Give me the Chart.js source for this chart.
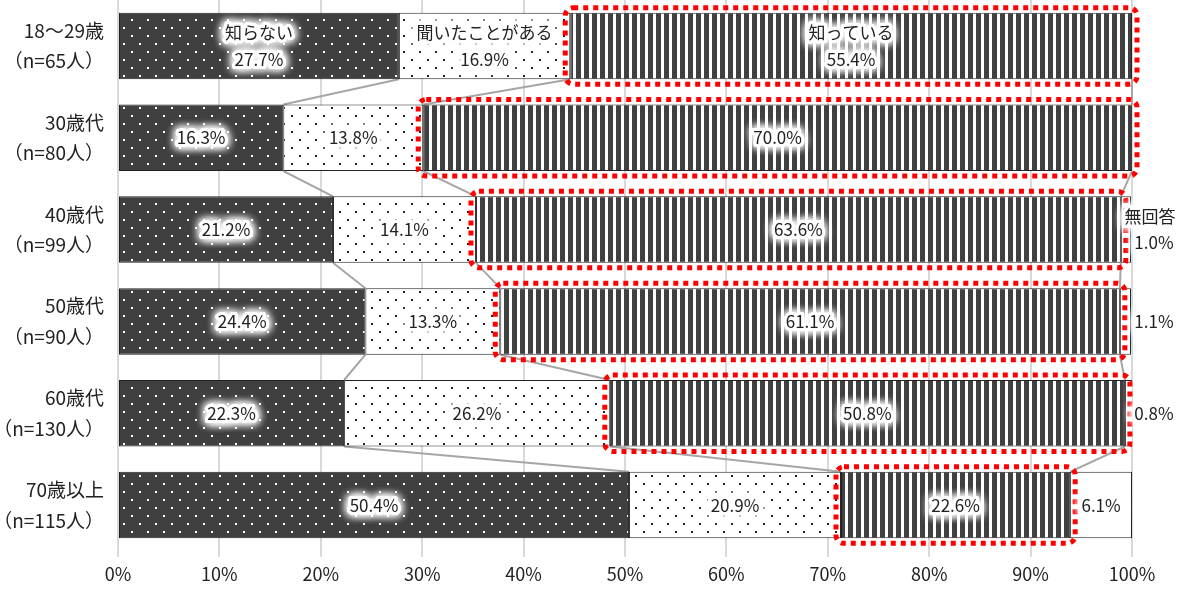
<!DOCTYPE html>
<html lang="ja">
<head>
<meta charset="utf-8">
<script src="https://cdn.jsdelivr.net/npm/chart.js@4"></script>
<style>
  html, body { margin: 0; padding: 0; background: #fff; }
  #wrap { width: 1186px; height: 591px; }
</style>
</head>
<body>
<div id="wrap"><canvas id="chart"></canvas></div>
<script>
'use strict';

// ── Data ─────────────────────────────────────────────
const ageGroups = [
  ['18～29歳', '（n=65人）'],
  ['30歳代', '（n=80人）'],
  ['40歳代', '（n=99人）'],
  ['50歳代', '（n=90人）'],
  ['60歳代', '（n=130人）'],
  ['70歳以上', '（n=115人）']
];
const seriesNames = ['知らない', '聞いたことがある', '知っている', '無回答'];
const notKnown   = [27.7, 16.3, 21.2, 24.4, 22.3, 50.4];
const heardOf    = [16.9, 13.8, 14.1, 13.3, 26.2, 20.9];
const known      = [55.4, 70.0, 63.6, 61.1, 50.8, 22.6];
const noAnswer   = [0, 0, 1.0, 1.1, 0.8, 6.1];
const xTicks     = [0, 10, 20, 30, 40, 50, 60, 70, 80, 90, 100];

const JP = '"Noto Sans CJK JP", "Noto Sans", sans-serif';

// ── Fill patterns ────────────────────────────────────
function dotPattern(bg, dot) {
  const c = document.createElement('canvas');
  c.width = 16; c.height = 16;
  const g = c.getContext('2d');
  g.fillStyle = bg; g.fillRect(0, 0, 16, 16);
  g.fillStyle = dot;
  g.fillRect(3, 3, 2, 2);
  g.fillRect(11, 11, 2, 2);
  return g.createPattern(c, 'repeat');
}
function stripePattern() {
  const c = document.createElement('canvas');
  c.width = 8; c.height = 8;
  const g = c.getContext('2d');
  g.fillStyle = '#fff'; g.fillRect(0, 0, 8, 8);
  g.fillStyle = '#404040'; g.fillRect(0, 0, 5, 8);
  return g.createPattern(c, 'repeat');
}

const fills = [
  dotPattern('#404040', '#ffffff'),
  dotPattern('#ffffff', '#222222'),
  stripePattern(),
  '#ffffff'
];

// ── Helpers ──────────────────────────────────────────
function glowText(ctx, text, x, y) {
  ctx.save();
  ctx.shadowColor = '#fff';
  ctx.shadowBlur = 10;
  ctx.strokeStyle = '#fff';
  ctx.lineWidth = 6;
  ctx.lineJoin = 'round';
  for (let i = 0; i < 3; i++) ctx.strokeText(text, x, y);
  ctx.shadowBlur = 0;
  ctx.fillStyle = '#222';
  ctx.fillText(text, x, y);
  ctx.restore();
}

// connectors between rows + red dotted frames + labels
const decorPlugin = {
  id: 'decor',
  beforeDatasetsDraw(chart) {
    const ctx = chart.ctx;
    ctx.save();
    ctx.strokeStyle = '#a6a6a6';
    ctx.lineWidth = 2;
    for (let k = 0; k < 3; k++) {
      const els = chart.getDatasetMeta(k).data;
      for (let i = 0; i < els.length - 1; i++) {
        const a = els[i].getProps(['x', 'y', 'height'], true);
        const b = els[i + 1].getProps(['x', 'y', 'height'], true);
        const xa = Math.min(a.x, chart.chartArea.right);
        const xb = Math.min(b.x, chart.chartArea.right);
        ctx.beginPath();
        ctx.moveTo(xa, a.y + a.height / 2);
        ctx.lineTo(xb, b.y - b.height / 2);
        ctx.stroke();
      }
    }
    ctx.restore();
  },
  afterDatasetsDraw(chart) {
    const ctx = chart.ctx;
    const right = chart.chartArea.right;

    // red dotted frames around 知っている
    ctx.save();
    ctx.strokeStyle = '#ff0000';
    ctx.lineWidth = 5;
    ctx.setLineDash([5, 5]);
    chart.getDatasetMeta(2).data.forEach(el => {
      const p = el.getProps(['x', 'y', 'base', 'height'], true);
      const x0 = p.base - 5, x1 = Math.min(p.x, right) + 5;
      const y0 = p.y - p.height / 2 - 5, y1 = p.y + p.height / 2 + 5;
      ctx.beginPath();
      ctx.roundRect(x0, y0, x1 - x0, y1 - y0, 8);
      ctx.stroke();
    });
    ctx.restore();

    // value labels
    ctx.save();
    ctx.font = '17px ' + JP;
    ctx.textAlign = 'center';
    ctx.textBaseline = 'middle';
    chart.data.datasets.forEach((ds, k) => {
      chart.getDatasetMeta(k).data.forEach((el, i) => {
        const v = ds.data[i];
        if (!v) return;
        const p = el.getProps(['x', 'y', 'base'], true);
        const txt = v.toFixed(1) + '%';
        let cx = (p.base + Math.min(p.x, right)) / 2;
        if (k === 3 && v < 3) {
          cx = right + 22;
          if (i === 2) {
            glowText(ctx, ds.label, cx - 4, p.y - 13);
            glowText(ctx, txt, cx, p.y + 13);
            return;
          }
        }
        if (i === 0) {
          glowText(ctx, ds.label, cx, p.y - 13);
          glowText(ctx, txt, cx, p.y + 14);
        } else {
          glowText(ctx, txt, cx, p.y);
        }
      });
    });
    ctx.restore();
  }
};

// ── Chart ────────────────────────────────────────────
const seriesData = [notKnown, heardOf, known, noAnswer];

new Chart(document.getElementById('chart'), {
  type: 'bar',
  data: {
    labels: ageGroups,
    datasets: seriesData.map((d, k) => ({
      label: seriesNames[k],
      data: d,
      backgroundColor: fills[k],
      borderColor: '#222',
      borderWidth: ctx => (ctx.raw > 0 ? 1 : 0),
      borderSkipped: false,
      barPercentage: 0.724,
      categoryPercentage: 1
    }))
  },
  options: {
    indexAxis: 'y',
    responsive: true,
    maintainAspectRatio: false,
    animation: false,
    layout: { padding: { top: 0, right: 54, bottom: 0, left: 0 } },
    plugins: {
      legend: { display: false },
      tooltip: { enabled: false }
    },
    scales: {
      x: {
        stacked: true,
        min: 0, max: 100,
        afterBuildTicks: scale => { scale.ticks = xTicks.map(v => ({ value: v })); },
        afterFit: scale => { scale.height = 40; scale.paddingLeft = 0; scale.paddingRight = 0; },
        grid: { color: '#d9d9d9', lineWidth: 2, tickLength: 6 },
        border: { display: false },
        ticks: {
          color: '#222',
          padding: 6,
          font: { family: JP, size: 18 },
          callback: v => v + '%'
        }
      },
      y: {
        stacked: true,
        afterFit: scale => { scale.width = 118; scale.paddingTop = 0; scale.paddingBottom = 0; },
        grid: { display: false },
        border: { display: false },
        ticks: {
          color: '#222',
          padding: 6,
          font: { family: JP, size: 19, lineHeight: 1.6 }
        }
      }
    }
  },
  plugins: [decorPlugin]
});
</script>
</body>
</html>
